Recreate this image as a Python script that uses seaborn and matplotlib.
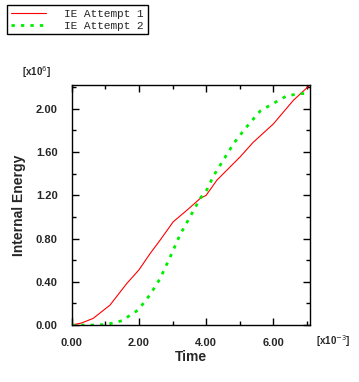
import pandas as pd
import seaborn as sns
import matplotlib.pyplot as plt
from matplotlib.ticker import MultipleLocator

# time [x1e-3], internal energy [x1e6]
t1 = [0.0, 0.3, 0.64, 1.14, 1.64, 2.0, 2.33, 2.63, 3.02, 3.42, 3.82, 4.0, 4.32,
      5.01, 5.40, 6.0, 6.6, 7.09]
ie1 = [0.0, 0.02, 0.062, 0.185, 0.385, 0.51, 0.66, 0.785, 0.955, 1.06, 1.17, 1.20,
       1.34, 1.555, 1.69, 1.86, 2.08, 2.22]
t2 = [0.0, 0.64, 1.04, 1.49, 1.98, 2.33, 2.63, 2.93, 3.23, 3.52, 3.82, 4.02, 4.22,
      4.52, 4.82, 5.17, 5.61, 6.0, 6.4, 6.8, 7.09]
ie2 = [0.0, 0.0, 0.005, 0.04, 0.14, 0.28, 0.43, 0.63, 0.84, 1.0, 1.17, 1.25, 1.38,
       1.53, 1.68, 1.82, 1.98, 2.05, 2.12, 2.14, 2.14]
names = ['IE Attempt 1', 'IE Attempt 2']

df1 = pd.DataFrame({'Time': t1, 'IE': ie1})
df2 = pd.DataFrame({'Time': t2, 'IE': ie2})

sns.set_style('ticks')
plt.rcParams['font.family'] = ['Liberation Sans', 'DejaVu Sans']

fig = plt.figure(figsize=(3.59, 3.82), dpi=100)
ax = fig.add_axes([0.1997, 0.149, 0.6638, 0.6285])

sns.lineplot(data=df1, x='Time', y='IE', ax=ax, color='#ff0000', lw=0.8,
             label=names[0], sort=False)
sns.lineplot(data=df2, x='Time', y='IE', ax=ax, color='#00ee00', lw=2.0,
             dashes=False, label=names[1], sort=False)
ax.lines[1].set_dashes([1.2, 2.2])

ax.set_xlim(0, 7.09)
ax.set_ylim(0, 2.22)
ax.xaxis.set_major_locator(MultipleLocator(2.0))
ax.xaxis.set_minor_locator(MultipleLocator(1.0))
ax.yaxis.set_major_locator(MultipleLocator(0.4))
ax.yaxis.set_minor_locator(MultipleLocator(0.2))
ax.xaxis.set_major_formatter(lambda v, p: f'{v:.2f}')
ax.yaxis.set_major_formatter(lambda v, p: f'{v:.2f}')
ax.tick_params(which='both', direction='in', top=True, right=True, width=1,
               color='black', labelsize=8)
ax.tick_params(axis='y', pad=10)
ax.tick_params(axis='x', pad=9)
ax.tick_params(which='major', length=5)
ax.tick_params(which='minor', length=3)
for lbl in ax.get_xticklabels() + ax.get_yticklabels():
    lbl.set_fontweight('bold')
for s in ax.spines.values():
    s.set_color('black')
    s.set_linewidth(1)

ax.set_xlabel('Time', fontsize=10, fontweight='bold', labelpad=2)
ax.set_ylabel('Internal Energy', fontsize=10, fontweight='bold', labelpad=7)

fig.text(37 / 359, 1 - 72 / 382, r'[x10$^{6}$]', fontsize=7, fontweight='bold',
         ha='center', va='center')
fig.text(333 / 359, 1 - 341 / 382, r'[x10$^{-3}$]', fontsize=7, fontweight='bold',
         ha='center', va='center')

ax.legend_.remove()
h, l = ax.get_legend_handles_labels()
leg = fig.legend(h, l, loc='upper left', bbox_to_anchor=(7 / 359, 1 - 5 / 382),
                 frameon=True, fancybox=False, edgecolor='black', framealpha=1,
                 prop={'family': 'Liberation Mono', 'size': 8}, handlelength=3.2,
                 handletextpad=1.6, borderpad=0.35, labelspacing=0.15,
                 borderaxespad=0)
leg.get_frame().set_linewidth(1)

fig.savefig('out.png', dpi=100)
